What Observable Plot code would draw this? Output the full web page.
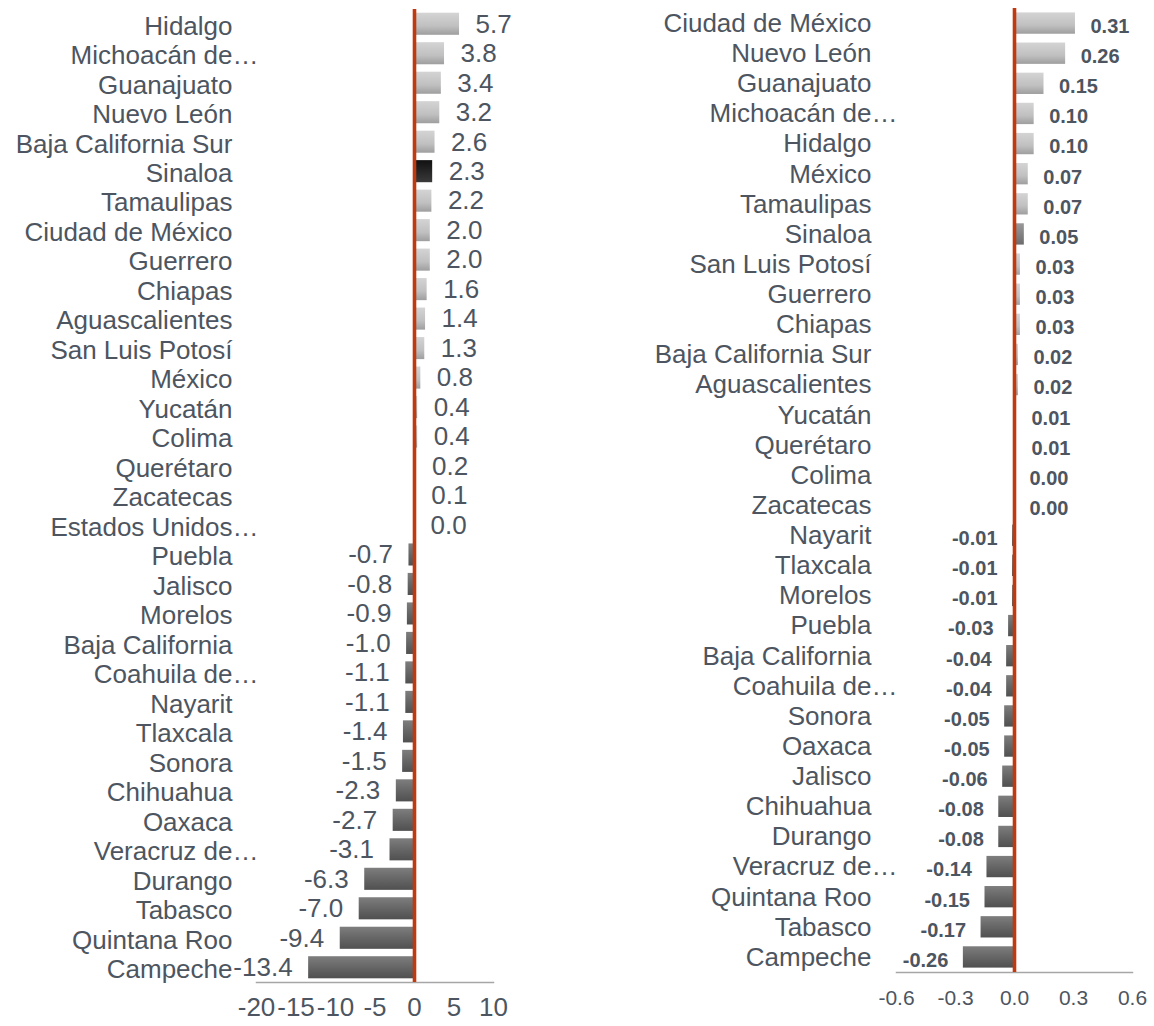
<!DOCTYPE html>
<html><head><meta charset="utf-8">
<script src="https://cdn.jsdelivr.net/npm/d3@7"></script>
<script src="https://cdn.jsdelivr.net/npm/@observablehq/plot@0.6"></script>
<style>
body{margin:0;background:#fff;}
#wrap{position:relative;width:1154px;height:1026px;font-family:"Liberation Sans",Arial,sans-serif;}
#left,#right{position:absolute;top:0;}
#left{left:0}
#right{left:577px}
</style></head><body><div id="wrap"><div id="left"></div><div id="right"></div></div>
<script>
// ---- Left panel data ----
const leftStates = ["Hidalgo","Michoacán de…","Guanajuato","Nuevo León","Baja California Sur","Sinaloa","Tamaulipas","Ciudad de México","Guerrero","Chiapas","Aguascalientes","San Luis Potosí","México","Yucatán","Colima","Querétaro","Zacatecas","Estados Unidos…","Puebla","Jalisco","Morelos","Baja California","Coahuila de…","Nayarit","Tlaxcala","Sonora","Chihuahua","Oaxaca","Veracruz de…","Durango","Tabasco","Quintana Roo","Campeche"];
const leftValues = [5.7,3.8,3.4,3.2,2.6,2.3,2.2,2.0,2.0,1.6,1.4,1.3,0.8,0.4,0.4,0.2,0.1,0.0,-0.7,-0.8,-0.9,-1.0,-1.1,-1.1,-1.4,-1.5,-2.3,-2.7,-3.1,-6.3,-7.0,-9.4,-13.4];
const leftTicks = [-20,-15,-10,-5,0,5,10];
const leftDomain = [-20,10];
const leftHighlight = "Sinaloa";

// ---- Right panel data ----
const rightStates = ["Ciudad de México","Nuevo León","Guanajuato","Michoacán de…","Hidalgo","México","Tamaulipas","Sinaloa","San Luis Potosí","Guerrero","Chiapas","Baja California Sur","Aguascalientes","Yucatán","Querétaro","Colima","Zacatecas","Nayarit","Tlaxcala","Morelos","Puebla","Baja California","Coahuila de…","Sonora","Oaxaca","Jalisco","Chihuahua","Durango","Veracruz de…","Quintana Roo","Tabasco","Campeche"];
const rightValues = [0.31,0.26,0.15,0.10,0.10,0.07,0.07,0.05,0.03,0.03,0.03,0.02,0.02,0.01,0.01,0.00,0.00,-0.01,-0.01,-0.01,-0.03,-0.04,-0.04,-0.05,-0.05,-0.06,-0.08,-0.08,-0.14,-0.15,-0.17,-0.26];
const rightTicks = [-0.6,-0.3,0,0.3,0.6];
const rightDomain = [-0.6,0.6];
const rightHighlight = "Sinaloa";

const TEXT = "#4d5560";
const RED = "#c0390f";

const hyphen = f => v => f(v).replace("\u2212", "-");

function gradient(defs, id, stops) {
  const g = defs.append("linearGradient").attr("id", id).attr("x1", 0).attr("y1", 0).attr("x2", 0).attr("y2", 1);
  stops.forEach(([o, c]) => g.append("stop").attr("offset", o).attr("stop-color", c));
}

function panel(o) {
  const rows = o.states.map((s, i) => {
    const ell = s.endsWith("…");
    return {state: s, value: o.values[i], base: ell ? s.slice(0, -1) : s, ell, hi: s === o.highlight};
  });
  const pos = rows.filter(d => d.value >= 0);
  const neg = rows.filter(d => d.value < 0);
  const p = o.prefix;
  const inset = {insetTop: o.inset, insetBottom: o.inset};
  return Plot.plot({
    width: o.width, height: 1026,
    marginLeft: o.marginLeft, marginRight: o.marginRight, marginTop: o.marginTop, marginBottom: o.marginBottom,
    style: {fontFamily: "'Liberation Sans', Arial, sans-serif", background: "white", overflow: "visible"},
    x: {domain: o.domain, label: null},
    y: {domain: o.states, padding: 0, round: false, axis: null},
    marks: [
      () => {
        const defs = d3.create("svg:defs");
        gradient(defs, p + "pos", [[0, "#d4d4d4"], [0.6, "#c0c0c0"], [1, "#9e9e9e"]]);
        gradient(defs, p + "neg", [[0, "#7e7e7e"], [0.5, "#666666"], [1, "#505050"]]);
        gradient(defs, p + "hi", o.hiStops);
        return defs.node();
      },
      Plot.barX(rows.filter(d => d.value >= 0 && !d.hi), {x: "value", y: "state", fill: `url(#${p}pos)`, ...inset}),
      Plot.barX(rows.filter(d => d.value < 0 && !d.hi), {x: "value", y: "state", fill: `url(#${p}neg)`, ...inset}),
      Plot.barX(rows.filter(d => d.hi), {x: "value", y: "state", fill: `url(#${p}hi)`, ...inset}),
      Plot.frame({anchor: "bottom", stroke: "#a6a6a6", strokeWidth: 1.5}),
      Plot.ruleX([0], {stroke: RED, strokeWidth: 3.6}),
      Plot.text(rows, {y: "state", text: "base", frameAnchor: "left", textAnchor: "end", dx: o.catDx, dy: o.catDy, fontSize: o.catSize, fill: TEXT}),
      Plot.text(rows.filter(d => d.ell), {y: "state", text: () => "…", frameAnchor: "left", textAnchor: "start", dx: o.catDx, dy: o.catDy, fontSize: o.catSize, fill: TEXT}),
      Plot.text(pos, {x: "value", y: "state", text: d => o.fmt(d.value), textAnchor: "start", dx: o.valDx, dy: o.valDy, fontSize: o.valSize, fontWeight: o.valWeight, fill: TEXT}),
      Plot.text(neg, {x: "value", y: "state", text: d => o.fmt(d.value), textAnchor: "end", dx: -o.valDx, dy: o.valDy, fontSize: o.valSize, fontWeight: o.valWeight, fill: TEXT}),
      Plot.axisX({ticks: o.ticks, tickSize: 0, tickPadding: o.tickPad, fontSize: o.tickSize, tickFormat: o.tickFmt, color: TEXT, label: null})
    ]
  });
}

document.getElementById("left").append(panel({
  prefix: "L", states: leftStates, values: leftValues, ticks: leftTicks, domain: leftDomain, highlight: leftHighlight,
  hiStops: [[0, "#111111"], [1, "#3a3a3a"]],
  fmt: hyphen(d3.format(".1f")), tickFmt: hyphen(d3.format("d")),
  width: 577, marginLeft: 256, marginRight: 84, marginTop: 9, marginBottom: 44,
  inset: 3.7,
  catDx: -24, catDy: 2, catSize: 26,
  valDx: 16, valDy: 0, valSize: 26, valWeight: "normal",
  tickSize: 26, tickPad: 15
}));

document.getElementById("right").append(panel({
  prefix: "R", states: rightStates, values: rightValues, ticks: rightTicks, domain: rightDomain, highlight: rightHighlight,
  hiStops: [[0, "#9a9a9a"], [1, "#6c6c6c"]],
  fmt: hyphen(d3.format(".2f")), tickFmt: hyphen(d3.format(".1f")),
  width: 577, marginLeft: 319, marginRight: 22, marginTop: 8, marginBottom: 54,
  inset: 4.4,
  catDx: -25, catDy: 0, catSize: 26,
  valDx: 15, valDy: 3, valSize: 20, valWeight: "bold",
  tickSize: 21, tickPad: 18
}));
</script></body></html>
